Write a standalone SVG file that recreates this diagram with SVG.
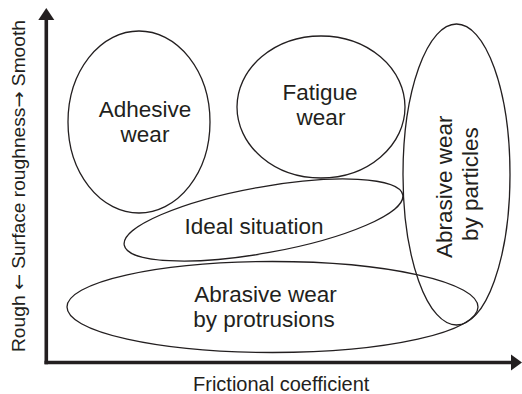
<svg xmlns="http://www.w3.org/2000/svg" width="522" height="394" viewBox="0 0 522 394">
<style>
.shape{fill:none;stroke:#231f20;stroke-width:1.3}
.lbl{font-family:"Liberation Sans",Arial,sans-serif;font-size:22.5px;fill:#231f20}
.ax{font-family:"Liberation Sans",Arial,sans-serif;fill:#231f20}
.arr{font-family:"DejaVu Sans",sans-serif}
.axis{stroke:#231f20;stroke-width:3.6;fill:none}
</style>
<rect width="522" height="394" fill="#ffffff"/>
<g id="connectors">
<line class="axis" x1="46.3" y1="18" x2="46.3" y2="364.3"/>
<line class="axis" x1="44.5" y1="362.5" x2="512" y2="362.5"/>
<polygon points="46.3,8 38.3,20 54.3,20" fill="#231f20"/>
<polygon points="522,362.5 511,354.5 511,370.5" fill="#231f20"/>
</g>
<g id="adhesive">
<ellipse class="shape" cx="139" cy="122" rx="71" ry="91"/>
<text class="lbl" x="145" y="117" text-anchor="middle">Adhesive</text>
<text class="lbl" x="145" y="142" text-anchor="middle">wear</text>
</g>
<g id="fatigue">
<ellipse class="shape" cx="321" cy="107" rx="84" ry="71"/>
<text class="lbl" x="320" y="100" text-anchor="middle">Fatigue</text>
<text class="lbl" x="321" y="125" text-anchor="middle">wear</text>
</g>
<g id="particles">
<ellipse class="shape" cx="456.5" cy="174.5" rx="53.5" ry="150.5"/>
<text class="lbl" transform="translate(451.5,258) rotate(-90)">Abrasive wear</text>
<text class="lbl" transform="translate(477.5,241) rotate(-90)">by particles</text>
</g>
<g id="ideal">
<ellipse class="shape" cx="263.5" cy="220" rx="141.5" ry="33" transform="rotate(-10.2 263.5 220)"/>
<text class="lbl" x="254" y="234" text-anchor="middle">Ideal situation</text>
</g>
<g id="protrusions">
<ellipse class="shape" cx="272.5" cy="307" rx="205.5" ry="45.5"/>
<text class="lbl" x="265.5" y="302" text-anchor="middle">Abrasive wear</text>
<text class="lbl" x="264" y="326.5" text-anchor="middle">by protrusions</text>
</g>
<g id="axis-labels">
<text class="ax" font-size="18" transform="translate(25,352) rotate(-90)" textLength="332" lengthAdjust="spacingAndGlyphs">Rough <tspan class="arr">←</tspan> Surface roughness<tspan class="arr">→</tspan> Smooth</text>
<text class="ax" font-size="20" x="193" y="391">Frictional coefficient</text>
</g>
</svg>
